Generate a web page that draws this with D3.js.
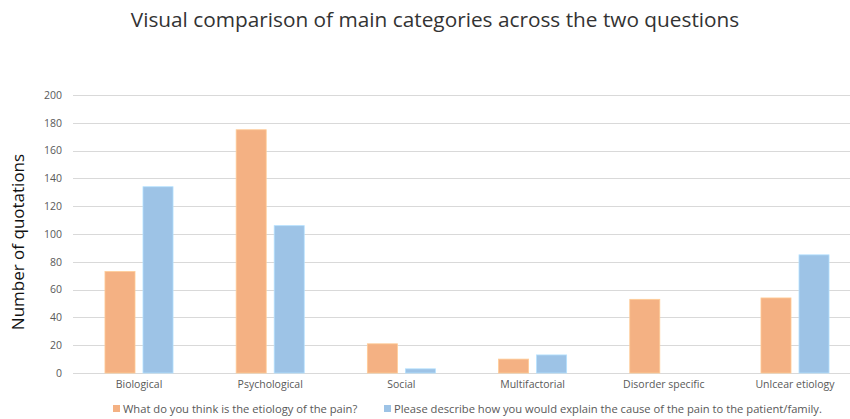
<!DOCTYPE html>
<html>
<head>
<meta charset="utf-8">
<script src="https://cdn.jsdelivr.net/npm/d3@7"></script>
<style>
  body { margin: 0; background: #fff; }
  text { font-family: "Open Sans", "Liberation Sans", sans-serif; }
</style>
</head>
<body>
<svg id="chart" width="850" height="419"></svg>
<script>
// chart data
var categories = ['Biological', 'Psychological', 'Social', 'Multifactorial', 'Disorder specific', 'Unlcear etiology'];
var seriesNames = ['What do you think is the etiology of the pain?', 'Please describe how you would explain the cause of the pain to the patient/family.'];
var etiologyValues = [73, 175, 21, 10, 53, 54];
var explainValues = [134, 106, 3, 13, 0, 85];
var yTicks = [0, 20, 40, 60, 80, 100, 120, 140, 160, 180, 200];
var colors = ['#F4B183', '#9DC3E6'];

var svg = d3.select('#chart');

var x = d3.scaleBand()
  .domain(categories)
  .range([73.4, 860.6]);

// two bars inside each category band
var inner = d3.scaleBand()
  .domain([0, 1])
  .range([0, x.bandwidth()])
  .paddingInner(0.21)
  .paddingOuter(0.83);

var y = d3.scaleLinear()
  .domain([0, 200])
  .range([373, 95]);

// title
svg.append('text')
  .attr('x', 435)
  .attr('y', 27)
  .attr('text-anchor', 'middle')
  .attr('font-size', 20.8)
  .attr('fill', '#333')
  .text('Visual comparison of main categories across the two questions');

// gridlines
svg.append('g')
  .selectAll('line')
  .data(yTicks)
  .enter()
  .append('line')
  .attr('x1', 73)
  .attr('x2', 850)
  .attr('y1', function(d) { return Math.round(y(d)) + 0.5; })
  .attr('y2', function(d) { return Math.round(y(d)) + 0.5; })
  .attr('stroke', '#d9d9d9')
  .attr('stroke-width', 1);

// y axis (labels only)
var yAxis = svg.append('g')
  .attr('transform', 'translate(62,0)')
  .call(d3.axisLeft(y).tickValues(yTicks).tickSize(0).tickPadding(0));
yAxis.select('.domain').remove();
yAxis.selectAll('text')
  .attr('font-size', 10.5)
  .attr('fill', '#595959')
  .style('font-family', '"Open Sans", sans-serif');

// y title
svg.append('text')
  .attr('transform', 'translate(24,242) rotate(-90)')
  .attr('text-anchor', 'middle')
  .attr('font-size', 17)
  .attr('fill', '#111')
  .text('Number of quotations');

// bars
var series = [etiologyValues, explainValues];
series.forEach(function(vals, s) {
  svg.append('g')
    .selectAll('rect')
    .data(vals)
    .enter()
    .append('rect')
    .attr('x', function(d, i) { return x(categories[i]) + inner(s); })
    .attr('width', inner.bandwidth())
    .attr('y', function(d) { return y(d); })
    .attr('height', function(d) { return y(0) - y(d); })
    .attr('fill', colors[s])
    .attr('stroke', d3.color(colors[s]).brighter(0.4))
    .attr('stroke-width', 0.8)
    .style('display', function(d) { return d > 0 ? null : 'none'; });
});

// category labels, centred on each band
var xAxis = svg.append('g')
  .attr('transform', 'translate(0,381)')
  .call(d3.axisBottom(x).tickSize(0).tickPadding(0));
xAxis.select('.domain').remove();
xAxis.selectAll('text')
  .attr('font-size', 10.5)
  .attr('fill', '#595959')
  .style('font-family', '"Open Sans", sans-serif');

// legend
var legendX = [113, 384];
var legend = svg.append('g')
  .selectAll('g')
  .data(seriesNames)
  .enter()
  .append('g')
  .attr('transform', function(d, i) { return 'translate(' + legendX[i] + ',405)'; });
legend.append('rect')
  .attr('width', 7)
  .attr('height', 7)
  .attr('fill', function(d, i) { return colors[i]; });
legend.append('text')
  .attr('x', 10)
  .attr('y', 7.5)
  .attr('font-size', 11.2)
  .attr('fill', '#595959')
  .text(function(d) { return d; });
</script>
</body>
</html>
